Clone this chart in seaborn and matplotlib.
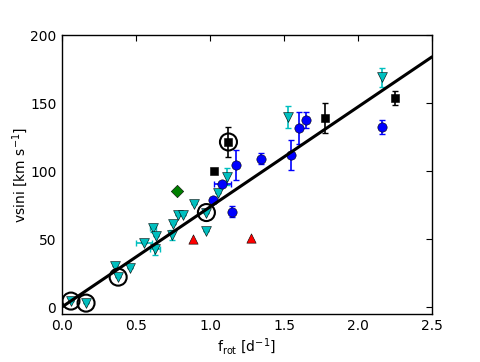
import matplotlib
matplotlib.use("Agg")
import matplotlib.pyplot as plt
import seaborn as sns

# cyan down-triangles
cyan_x = [0.061, 0.163, 0.36, 0.38, 0.46, 0.555, 0.617, 0.637, 0.63, 0.745,
          0.75, 0.786, 0.82, 0.894, 0.976, 0.976, 1.057, 1.118, 1.524, 2.16]
cyan_y = [4.4, 2.9, 30, 22, 28.5, 47, 58, 52, 42.5, 53,
          61, 68, 68, 76, 69.5, 55.6, 84, 96, 140, 169]
cyan_xerr = [0, 0, 0, 0, 0, 0.055, 0.02, 0, 0.035, 0,
             0, 0, 0, 0, 0, 0, 0, 0, 0, 0]
cyan_yerr = [0, 0, 0, 0, 0, 0, 3, 0, 4, 4,
             0, 0, 0, 0, 0, 0, 0, 6, 8, 7]

# blue circles
blue_x = [1.023, 1.084, 1.179, 1.152, 1.348, 1.545, 1.6, 1.646, 2.16]
blue_y = [79, 90.7, 104.6, 70, 109, 112, 131.7, 137.5, 132.4]
blue_xerr = [0, 0.06, 0, 0, 0, 0, 0, 0, 0]
blue_yerr = [0, 0, 11, 4, 4, 11, 12, 6, 5]

# black squares
black_x = [1.125, 1.03, 1.775, 2.25]
black_y = [121.4, 100, 139, 153.6]
black_yerr = [11, 0, 11, 5]

# green diamond, red triangles
green_x = [0.779]
green_y = [85]
red_x = [0.887, 1.28]
red_y = [50, 51]

# stars marked with open circles
ring_x = [0.061, 0.163, 0.38, 0.976, 1.125]
ring_y = [4.4, 2.9, 22, 69.5, 121.4]

# linear relation
fit_x = [0.0, 2.5]
fit_y = [0.0, 184.0]

sns.set_style("white")
plt.rcParams["mathtext.default"] = "regular"
plt.rcParams["font.family"] = ["DejaVu Sans"]

fig = plt.figure(figsize=(4.8, 3.62), dpi=100)
ax = fig.add_axes([0.129, 0.133, 0.771, 0.77])

ax.errorbar(cyan_x, cyan_y, xerr=cyan_xerr, yerr=cyan_yerr, fmt="none",
            ecolor="c", elinewidth=1.2, capsize=2.5, zorder=2)
ax.errorbar(blue_x, blue_y, xerr=blue_xerr, yerr=blue_yerr, fmt="none",
            ecolor="b", elinewidth=1.2, capsize=2.5, zorder=2)
ax.errorbar(black_x, black_y, yerr=black_yerr, fmt="none",
            ecolor="k", elinewidth=1.2, capsize=2.5, zorder=2)

sns.scatterplot(x=cyan_x, y=cyan_y, marker="v", color="c", s=50,
                edgecolor="k", linewidth=0.4, ax=ax, zorder=3)
sns.scatterplot(x=blue_x, y=blue_y, marker="o", color="b", s=45,
                edgecolor="k", linewidth=0.4, ax=ax, zorder=3)
sns.scatterplot(x=black_x, y=black_y, marker="s", color="k", s=40,
                edgecolor="k", linewidth=0.4, ax=ax, zorder=3)
sns.scatterplot(x=green_x, y=green_y, marker="D", color="g", s=40,
                edgecolor="k", linewidth=0.4, ax=ax, zorder=3)
sns.scatterplot(x=red_x, y=red_y, marker="^", color="r", s=45,
                edgecolor="k", linewidth=0.4, ax=ax, zorder=3)
ax.scatter(ring_x, ring_y, s=150, facecolors="none", edgecolors="k",
           linewidths=1.5, zorder=4)

sns.lineplot(x=fit_x, y=fit_y, color="k", linewidth=2.2, ax=ax, zorder=5)

ax.set_xlim(0, 2.5)
ax.set_ylim(-5, 200)
ax.set_xticks([0.0, 0.5, 1.0, 1.5, 2.0, 2.5])
ax.set_yticks([0, 50, 100, 150, 200])
ax.tick_params(direction="in", length=4, width=0.8, top=True, right=True,
               labelsize=10, colors="k", pad=4)
for sp in ax.spines.values():
    sp.set_color("k")
    sp.set_linewidth(1.0)

ax.set_xlabel("f$_{rot}$ [d$^{-1}$]", fontsize=10, color="k", labelpad=2)
ax.set_ylabel("vsini [km s$^{-1}$]", fontsize=10, color="k", labelpad=0)

fig.savefig("out.png", dpi=100)
